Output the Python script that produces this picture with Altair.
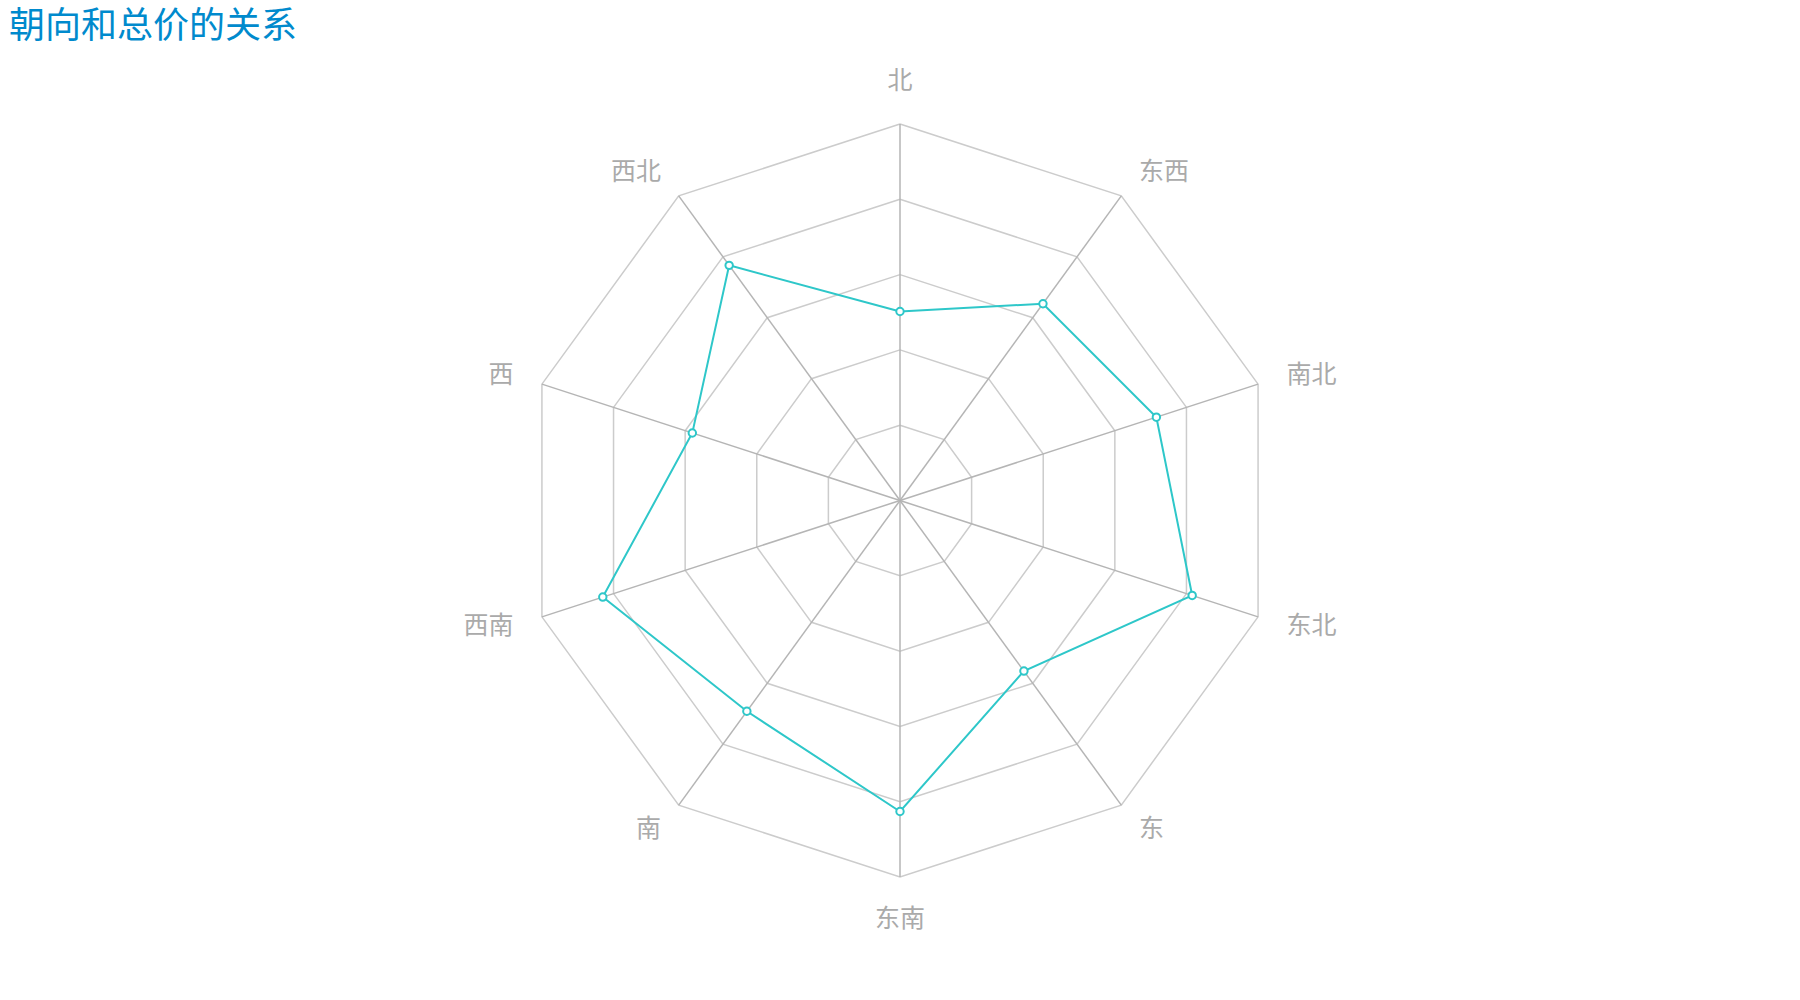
import math
import altair as alt
import pandas as pd

# ---- data ----
directions = ["北", "东西", "南北", "东北", "东", "东南", "南", "西南", "西", "西北"]
values = [251, 323, 358, 408, 280, 413, 346, 415, 290, 386]
levels = [100, 200, 300, 400, 500]
max_value = 500
title_text = "朝向和总价的关系"

# ---- geometry helpers (pixels per value unit) ----
W, H = 1800, 1000
CX, CY = 900, 500.5
R_PX = 376.5
NAME_GAP = 30
k = R_PX / max_value
x_dom = [-CX / k, (W - CX) / k]
y_dom = [-(H - CY) / k, CY / k]

n = len(directions)
def ang(i):
    return 2 * math.pi * i / n

# rings
ring_rows = []
for lv in levels:
    for j in range(n + 1):
        i = j % n
        ring_rows.append({"level": lv, "ord": j,
                          "x": lv * math.sin(ang(i)), "y": lv * math.cos(ang(i))})
rings = pd.DataFrame(ring_rows)

# spokes
spokes = pd.DataFrame({
    "dir": directions,
    "x0": [0.0] * n, "y0": [0.0] * n,
    "x": [max_value * math.sin(ang(i)) for i in range(n)],
    "y": [max_value * math.cos(ang(i)) for i in range(n)],
})

# labels (radar-style placement: aligned away from the centre)
lab_r = max_value + NAME_GAP / k
lab_rows = []
for i, d in enumerate(directions):
    s, c = math.sin(ang(i)), math.cos(ang(i))
    if abs(s) < 1e-6:
        grp = "top" if c > 0 else "bottom"
    else:
        grp = "left" if s > 0 else "right"
    lab_rows.append({"dir": d, "grp": grp, "x": lab_r * s, "y": lab_r * c})
labels = pd.DataFrame(lab_rows)

# series
ser_rows = []
for j in range(n + 1):
    i = j % n
    ser_rows.append({"dir": directions[i], "value": values[i], "ord": j,
                     "x": values[i] * math.sin(ang(i)), "y": values[i] * math.cos(ang(i))})
series = pd.DataFrame(ser_rows)

xs = alt.Scale(domain=x_dom, nice=False, zero=False)
ys = alt.Scale(domain=y_dom, nice=False, zero=False)
X = lambda f="x": alt.X(f"{f}:Q", scale=xs, axis=None)
Y = lambda f="y": alt.Y(f"{f}:Q", scale=ys, axis=None)

ring_layer = alt.Chart(rings).mark_line(color="#cccccc", strokeWidth=1.5).encode(
    x=X(), y=Y(), detail="level:N", order="ord:Q")

spoke_layer = alt.Chart(spokes).mark_rule(color="#b5b5b5", strokeWidth=1.5).encode(
    x=X("x0"), y=Y("y0"), x2="x:Q", y2="y:Q")

def label_layer(grp, align, baseline):
    return alt.Chart(labels[labels["grp"] == grp]).mark_text(
        font="Noto Sans CJK SC", fontSize=25, color="#aaaaaa", align=align, baseline=baseline
    ).encode(x=X(), y=Y(), text="dir:N")

labels_all = [
    label_layer("top", "center", "bottom"),
    label_layer("bottom", "center", "top"),
    label_layer("left", "left", "middle"),
    label_layer("right", "right", "middle"),
]

line_layer = alt.Chart(series).mark_line(color="#2ec7c9", strokeWidth=2).encode(
    x=X(), y=Y(), order="ord:Q")

point_layer = alt.Chart(series[series["ord"] < n]).mark_point(
    shape="circle", filled=True, fill="white", stroke="#2ec7c9", strokeWidth=2, size=55, opacity=1
).encode(x=X(), y=Y(), tooltip=["dir:N", "value:Q"])

title_layer = alt.Chart(pd.DataFrame({"t": [title_text]})).mark_text(
    font="Noto Sans CJK SC", fontSize=36, color="#008acd", align="left", baseline="middle"
).encode(x=alt.value(9), y=alt.value(27), text="t:N")

chart = alt.layer(ring_layer, spoke_layer, line_layer, point_layer, *labels_all, title_layer).properties(
    width=W, height=H, padding=0, autosize="none"
).configure_view(stroke=None)

chart.save("out.html", embed_options={"renderer": "svg", "actions": False})
